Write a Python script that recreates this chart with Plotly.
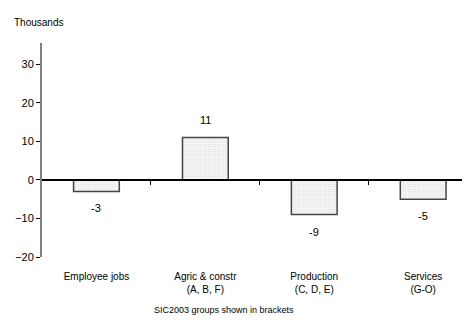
import plotly.graph_objects as go

categories = ["Employee jobs", "Agric & constr<br>(A, B, F)", "Production<br>(C, D, E)", "Services<br>(G-O)"]
values = [-3, 11, -9, -5]
value_labels = ["-3", "11", "-9", "-5"]
y_ticks = [-20, -10, 0, 10, 20, 30]

xpos = list(range(len(categories)))

fig = go.Figure()
fig.add_trace(go.Bar(
    x=xpos, y=values, width=0.42,
    marker=dict(color="white",
                line=dict(color="#444444", width=1.5),
                pattern=dict(shape=".", size=2.5, solidity=0.25, fgcolor="#b8b8b8", bgcolor="#f7f7f7")),
    showlegend=False, hoverinfo="skip",
))
fig.add_trace(go.Scatter(x=[None], y=[None], xaxis="x2", showlegend=False))

for xi, v, lab in zip(xpos, values, value_labels):
    fig.add_annotation(x=xi, y=v, text=lab, showarrow=False, xref="x", yref="y",
                       yshift=17 if v > 0 else -17, yanchor="middle",
                       font=dict(family="Liberation Sans, Arial", size=11, color="black"))

fig.add_annotation(x=0.0, y=1.0, xref="paper", yref="paper", xanchor="left", yanchor="bottom",
                   text="Thousands", showarrow=False, xshift=-30, yshift=13,
                   font=dict(family="Liberation Sans, Arial", size=10, color="black"))
fig.add_annotation(x=0.425, y=0, xref="paper", yref="paper", yanchor="middle",
                   text="SIC2003 groups shown in brackets", showarrow=False, yshift=-53,
                   font=dict(family="Liberation Sans, Arial", size=9, color="black"))

zero_frac = 20 / 55.5
fig.update_layout(
    width=462, height=319,
    margin=dict(l=34, r=0, t=35, b=70, autoexpand=False),
    paper_bgcolor="white", plot_bgcolor="white",
    font=dict(family="Liberation Sans, Arial", color="black"),
    xaxis=dict(range=[-0.5, 3.43], tickvals=xpos, ticktext=categories, showline=False,
               showgrid=False, zeroline=False, ticks="", tickfont=dict(size=10),
               ticklabelstandoff=12, automargin=False),
    xaxis2=dict(range=[-0.5, 3.43], overlaying="x", anchor="free", position=zero_frac,
                showline=True, linecolor="black", linewidth=1.5, tickvals=[0.5, 1.5, 2.5],
                ticks="outside", ticklen=4, tickcolor="black", tickwidth=1,
                showticklabels=False, showgrid=False, zeroline=False, automargin=False),
    yaxis=dict(range=[-20, 35.5], tickvals=y_ticks, showgrid=False, zeroline=False,
               showline=True, linecolor="#808080", linewidth=2, ticks="outside", ticklen=4,
               tickcolor="black", tickfont=dict(size=11), automargin=False),
)
fig.write_html("out.html")
